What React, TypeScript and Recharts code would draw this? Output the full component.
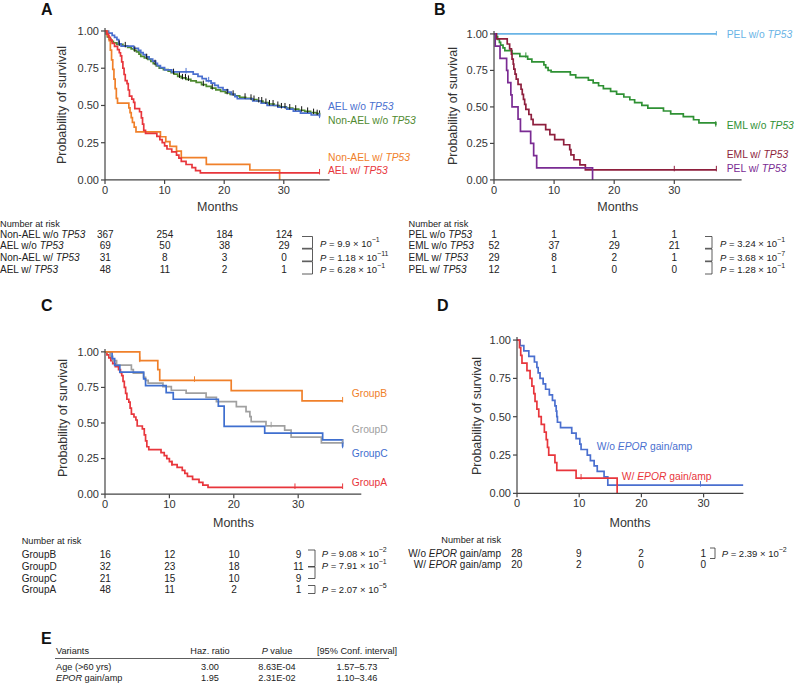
import React from 'react';
import { ComposedChart, Line, XAxis, YAxis } from 'recharts';

const FONT = "'Liberation Sans', Arial, Helvetica, sans-serif";
const monthTicks = [0, 10, 20, 30];
const survTicks = [0, 0.25, 0.5, 0.75, 1];
const Y_MAX = 1.02;

type Pt = [number, number];

// ---------- Panel A ----------
const aAelWo: Pt[] = [[0,1],[0.6,0.986],[1.2,0.971],[1.6,0.957],[2.0,0.942],[2.3,0.913],[2.7,0.899],[4.8,0.884],[5.6,0.87],[6.0,0.855],[6.4,0.841],[6.9,0.826],[7.4,0.812],[8.0,0.797],[8.5,0.783],[8.8,0.768],[9.3,0.754],[10.0,0.739],[11.2,0.725],[14.8,0.71],[15.6,0.695],[16.3,0.68],[17.0,0.665],[17.8,0.65],[18.4,0.635],[19.0,0.62],[19.8,0.605],[20.6,0.59],[21.2,0.575],[21.8,0.56],[22.2,0.545],[24.8,0.53],[26.2,0.515],[27.2,0.5],[29.0,0.488],[30.5,0.475],[31.6,0.462],[32.8,0.448],[34.6,0.436],[36.0,0.425]];
const aNonAelWo: Pt[] = [[0,1],[0.2,0.98],[0.4,0.96],[0.7,0.945],[1.0,0.93],[1.4,0.92],[2.0,0.91],[3.0,0.9],[3.8,0.89],[4.4,0.88],[4.9,0.87],[5.3,0.86],[5.7,0.845],[6.0,0.83],[6.6,0.82],[7.2,0.81],[7.7,0.795],[8.1,0.78],[8.6,0.765],[9.1,0.75],[9.8,0.74],[10.6,0.73],[11.1,0.72],[11.6,0.71],[12.2,0.695],[12.8,0.685],[13.6,0.675],[14.4,0.665],[15.3,0.655],[16.2,0.64],[17.0,0.628],[17.8,0.617],[18.6,0.605],[19.4,0.595],[20.2,0.585],[21.0,0.575],[21.8,0.565],[22.6,0.555],[23.6,0.548],[24.6,0.54],[25.5,0.53],[26.5,0.52],[27.4,0.51],[28.4,0.5],[29.3,0.49],[30.4,0.483],[31.5,0.475],[32.5,0.468],[33.5,0.46],[34.5,0.452],[35.5,0.445],[36.0,0.44]];
const aNonAelW: Pt[] = [[0,1],[0.4,0.968],[0.7,0.935],[0.9,0.871],[1.1,0.806],[1.3,0.742],[1.5,0.677],[1.7,0.613],[1.9,0.548],[2.1,0.516],[4.0,0.484],[4.2,0.452],[4.4,0.419],[4.6,0.387],[4.9,0.355],[5.2,0.323],[9.3,0.29],[10.2,0.258],[10.9,0.226],[12.0,0.194],[12.8,0.15],[17.0,0.105],[24.3,0.067],[29.3,0]];
const aAelW: Pt[] = [[0,1],[0.3,0.979],[0.6,0.958],[0.9,0.938],[1.2,0.917],[1.6,0.896],[2.1,0.875],[2.4,0.854],[2.6,0.833],[2.8,0.792],[3.0,0.75],[3.2,0.708],[3.4,0.667],[3.7,0.646],[3.9,0.604],[4.1,0.563],[4.5,0.542],[4.8,0.521],[5.0,0.479],[5.8,0.458],[6.1,0.417],[6.3,0.375],[6.5,0.333],[6.8,0.313],[8.7,0.292],[9.2,0.271],[9.6,0.25],[10.0,0.229],[10.4,0.208],[11.2,0.188],[12.0,0.167],[12.4,0.146],[12.8,0.125],[13.6,0.104],[14.6,0.083],[15.2,0.063],[16.0,0.047],[36.0,0.047]];
const aCensorNonAelWo = [2.4,3.4,5.0,7.0,8.4,11.5,12.5,13.0,13.5,14.0,16.5,18.0,20.5,21.5,23.5,24.5,25.0,25.8,26.3,27.0,27.6,28.2,29.0,29.6,30.2,31.0,32.0,33.0,34.0,35.0,35.6,36.0];
const aCensorAelWo = [13.6, 17.4, 36.0];
const aCensorAelW = [36.0];
const aLabels = ['AEL w/o TP53', 'Non-AEL w/o TP53', 'Non-AEL w/ TP53', 'AEL w/ TP53'];
const aRiskLabels = ['Non-AEL w/o TP53', 'AEL w/o TP53', 'Non-AEL w/ TP53', 'AEL w/ TP53'];
const aRisk = [[367,254,184,124],[69,50,38,29],[31,8,3,0],[48,11,2,1]];
const aP = [['9.9','−1'],['1.18','−11'],['6.28','−1']];

// ---------- Panel B ----------
const bPelWo: Pt[] = [[0,1],[37,1]];
const bEmlWo: Pt[] = [[0,1],[0.4,0.981],[0.6,0.962],[0.9,0.942],[1.1,0.923],[1.5,0.904],[1.8,0.885],[3.0,0.865],[4.3,0.846],[5.6,0.827],[6.3,0.808],[8.3,0.788],[8.6,0.769],[9.0,0.75],[9.5,0.74],[12.7,0.72],[13.6,0.7],[15.7,0.683],[16.5,0.664],[17.4,0.645],[18.2,0.625],[19.4,0.606],[20.4,0.587],[21.6,0.568],[22.6,0.549],[23.4,0.53],[24.6,0.511],[25.6,0.492],[28.2,0.472],[29.4,0.452],[31.5,0.433],[33.2,0.412],[34.1,0.39],[36.9,0.375]];
const bEmlW: Pt[] = [[0,1],[0.4,0.966],[2.2,0.931],[2.6,0.897],[2.9,0.862],[3.0,0.828],[3.2,0.793],[3.3,0.759],[3.5,0.724],[3.7,0.69],[4.0,0.655],[4.5,0.621],[4.7,0.586],[4.9,0.552],[5.1,0.517],[5.3,0.483],[5.8,0.448],[6.2,0.414],[6.5,0.379],[8.6,0.345],[9.3,0.31],[10.1,0.276],[11.6,0.241],[12.6,0.207],[12.8,0.172],[13.3,0.138],[14.3,0.103],[15.2,0.069],[37,0.069]];
const bPelW: Pt[] = [[0,1],[0.2,0.917],[1.0,0.833],[2.1,0.75],[2.3,0.667],[2.8,0.583],[3.0,0.5],[4.0,0.417],[4.4,0.333],[6.1,0.25],[6.6,0.167],[7.1,0.083],[16.4,0]];
const bCensorPelWo = [37];
const bCensorEmlWo = [5.3, 36.9];
const bCensorEmlW = [30, 37];
const bLabels = ['PEL w/o TP53', 'EML w/o TP53', 'EML w/ TP53', 'PEL w/ TP53'];
const bRiskLabels = ['PEL w/o TP53', 'EML w/o TP53', 'EML w/ TP53', 'PEL w/ TP53'];
const bRisk = [[1,1,1,1],[52,37,29,21],[29,8,2,1],[12,1,0,0]];
const bP = [['3.24','−1'],['3.68','−7'],['1.28','−1']];

// ---------- Panel C ----------
const cGroupB: Pt[] = [[0,1],[5.4,0.938],[8.2,0.875],[8.5,0.8],[19.6,0.727],[30.6,0.655],[36.9,0.655]];
const cGroupD: Pt[] = [[0,1],[0.8,0.969],[1.2,0.938],[1.8,0.906],[4.1,0.875],[4.4,0.85],[6.0,0.82],[6.3,0.8],[6.7,0.78],[9.0,0.755],[10.3,0.73],[12.6,0.71],[15.7,0.68],[17.3,0.65],[20.4,0.615],[21.9,0.58],[22.5,0.545],[22.7,0.51],[25.0,0.48],[27.9,0.45],[28.9,0.4],[33.6,0.36],[36.9,0.355]];
const cGroupC: Pt[] = [[0,1],[1.1,0.952],[1.5,0.905],[2.3,0.857],[6.0,0.81],[6.3,0.762],[9.5,0.714],[10.6,0.667],[17.6,0.619],[18.5,0.476],[24.8,0.429],[33.8,0.381],[36.9,0.333]];
const cGroupA: Pt[] = [[0,1],[0.3,0.979],[0.6,0.958],[0.9,0.938],[1.2,0.917],[1.6,0.896],[2.1,0.875],[2.4,0.854],[2.6,0.833],[2.8,0.792],[3.0,0.75],[3.2,0.708],[3.4,0.667],[3.7,0.646],[3.9,0.604],[4.1,0.563],[4.5,0.542],[4.8,0.521],[5.0,0.479],[5.8,0.458],[6.1,0.417],[6.3,0.375],[6.5,0.333],[6.8,0.313],[8.7,0.292],[9.2,0.271],[9.6,0.25],[10.0,0.229],[10.4,0.208],[11.2,0.188],[12.0,0.167],[12.4,0.146],[12.8,0.125],[13.6,0.104],[14.6,0.083],[15.2,0.063],[16.0,0.047],[36.9,0.047]];
const cCensorB = [5.4, 13.9, 36.9];
const cCensorD = [25.8, 36.9];
const cCensorC = [36.9];
const cCensorA = [10.4, 29.5, 36.9];
const cLabels = ['GroupB', 'GroupD', 'GroupC', 'GroupA'];
const cRiskLabels = ['GroupB', 'GroupD', 'GroupC', 'GroupA'];
const cRisk = [[16,12,10,9],[32,23,18,11],[21,15,10,9],[48,11,2,1]];
const cP = [['9.08','−2'],['7.91','−1'],['2.07','−5']];

// ---------- Panel D ----------
const dWo: Pt[] = [[0,1],[0.5,0.964],[1.1,0.929],[1.9,0.893],[2.8,0.857],[3.2,0.821],[3.4,0.786],[3.7,0.75],[4.2,0.714],[4.6,0.679],[5.2,0.643],[5.7,0.607],[6.1,0.571],[6.3,0.536],[6.4,0.5],[6.5,0.464],[7.0,0.429],[8.8,0.393],[9.5,0.357],[10.1,0.321],[10.3,0.286],[11.3,0.25],[11.8,0.214],[12.4,0.179],[12.9,0.143],[14.0,0.107],[14.6,0.054],[36.4,0.054]];
const dW: Pt[] = [[0,1],[0.4,0.95],[0.6,0.9],[0.8,0.85],[1.6,0.8],[2.1,0.75],[2.4,0.7],[2.7,0.65],[2.9,0.6],[3.2,0.55],[3.5,0.5],[3.9,0.45],[4.4,0.4],[4.7,0.35],[4.9,0.3],[5.1,0.25],[6.1,0.2],[6.4,0.15],[9.5,0.1],[16.1,0]];
const dCensorWo = [29.5];
const dCensorW = [10.3];
const dLabels = ['W/o EPOR gain/amp', 'W/ EPOR gain/amp'];
const dRiskLabels = ['W/o EPOR gain/amp', 'W/ EPOR gain/amp'];
const dRisk = [[28,9,2,1],[20,2,0,0]];
const dP = [['2.39','−2']];

// ---------- Panel E ----------
const eHeader = ['Variants', 'Haz. ratio', 'P value', '[95% Conf. interval]'];
const eRows = [
  ['Age (>60 yrs)', '3.00', '8.63E-04', '1.57–5.73'],
  ['EPOR gain/amp', '1.95', '2.31E-02', '1.10–3.46'],
];

// ---------- colours ----------
const COL = {
  blue: '#4a6fcf', greenA: '#4f8a30', orange: '#f0802a', red: '#e8363c',
  lblue: '#6ab4e6', greenB: '#2f9134', dred: '#8e1f3d', purple: '#7a2b93',
  gray: '#a0a0a0', blueC: '#3f6fcf', axis: '#444', text: '#333',
};

type Series = { data: Pt[]; color: string; censor?: number[]; censorColor?: string };
type Cfg = { x0: number; y0: number; y1: number; kx: number; xMax: number; series: Series[] };

function stepAt(data: Pt[], t: number) {
  let s = data[0][1];
  for (const [x, y] of data) { if (x <= t) s = y; else break; }
  return s;
}

const toObj = (d: Pt[]) => d.map(([t, s]) => ({ t, s }));

const censorDot = (color: string) => (props: any) => {
  const { cx, cy, index } = props;
  if (cx == null || cy == null) return <g key={`n${index}`} />;
  return <line key={`c${index}`} x1={cx} x2={cx} y1={cy - 4} y2={cy + 1.5} stroke={color} strokeWidth={1} />;
};

function KM({ cfg }: { cfg: Cfg }) {
  const ML = 60, MT = 6, MR = 8, MB = 30;
  const plotW = cfg.xMax * cfg.kx;
  const plotH = (cfg.y0 - cfg.y1) * Y_MAX;
  const plotTop = cfg.y0 - plotH;
  const W = plotW + ML + MR;
  const H = plotH + MT + MB;
  const tickStyle = { fontSize: 11, fill: COL.text, fontFamily: FONT };
  return (
    <div style={{ position: 'absolute', left: cfg.x0 - ML, top: plotTop - MT }}>
      <ComposedChart width={W} height={H} margin={{ top: MT, right: MR, left: 0, bottom: 0 }}>
        <XAxis type="number" dataKey="t" domain={[0, cfg.xMax]} ticks={monthTicks} height={MB}
          allowDataOverflow tickSize={4} tick={tickStyle}
          axisLine={{ stroke: COL.axis, strokeWidth: 1.2 }} tickLine={{ stroke: COL.axis, strokeWidth: 1.2 }} />
        <YAxis type="number" dataKey="s" domain={[0, Y_MAX]} ticks={survTicks} width={ML}
          allowDataOverflow tickSize={4} tick={tickStyle} tickFormatter={(v: number) => v.toFixed(2)}
          axisLine={{ stroke: COL.axis, strokeWidth: 1.2 }} tickLine={{ stroke: COL.axis, strokeWidth: 1.2 }} />
        {cfg.series.map((s, i) => (
          <Line key={`l${i}`} data={toObj(s.data)} dataKey="s" type="stepAfter" stroke={s.color}
            strokeWidth={1.7} dot={false} activeDot={false} isAnimationActive={false} />
        ))}
        {cfg.series.filter(s => s.censor && s.censor.length).map((s, i) => (
          <Line key={`c${i}`} data={s.censor!.map(t => ({ t, s: stepAt(s.data, t) }))} dataKey="s"
            stroke="none" strokeWidth={0} dot={censorDot(s.censorColor || s.color)} activeDot={false}
            isAnimationActive={false} />
        ))}
      </ComposedChart>
    </div>
  );
}

const cfgA: Cfg = {
  x0: 105.3, y0: 180, y1: 31, kx: 5.96, xMax: 37.7,
  series: [
    { data: aNonAelWo, color: COL.greenA, censor: aCensorNonAelWo, censorColor: '#111' },
    { data: aAelWo, color: COL.blue, censor: aCensorAelWo },
    { data: aNonAelW, color: COL.orange },
    { data: aAelW, color: COL.red, censor: aCensorAelW },
  ],
};
const cfgB: Cfg = {
  x0: 494, y0: 180, y1: 34, kx: 6.01, xMax: 41.2,
  series: [
    { data: bPelWo, color: COL.lblue, censor: bCensorPelWo },
    { data: bEmlWo, color: COL.greenB, censor: bCensorEmlWo },
    { data: bEmlW, color: COL.dred, censor: bCensorEmlW },
    { data: bPelW, color: COL.purple },
  ],
};
const cfgC: Cfg = {
  x0: 105.3, y0: 494, y1: 351.7, kx: 6.44, xMax: 39.8,
  series: [
    { data: cGroupA, color: COL.red, censor: cCensorA },
    { data: cGroupD, color: COL.gray, censor: cCensorD },
    { data: cGroupC, color: COL.blueC, censor: cCensorC },
    { data: cGroupB, color: COL.orange, censor: cCensorB },
  ],
};
const cfgD: Cfg = {
  x0: 516.7, y0: 493.3, y1: 340, kx: 6.22, xMax: 36.4,
  series: [
    { data: dWo, color: COL.blue, censor: dCensorWo },
    { data: dW, color: COL.red, censor: dCensorW },
  ],
};

function Rich({ text }: { text: string }) {
  const parts = text.split(/(TP53|EPOR)/).filter(p => p.length);
  return <>{parts.map((p, i) => (p === 'TP53' || p === 'EPOR')
    ? <tspan key={i} fontStyle="italic">{p}</tspan>
    : <tspan key={i}>{p}</tspan>)}</>;
}

function T({ x, y, text, size = 10, fill = '#222', anchor = 'start', bold = false }:
  { x: number; y: number; text: string; size?: number; fill?: string; anchor?: string; bold?: boolean }) {
  return (
    <text x={x} y={y} fontSize={size} fill={fill} textAnchor={anchor as any} dominantBaseline="central"
      fontWeight={bold ? 'bold' : 'normal'} style={{ whiteSpace: 'pre' }}>
      <Rich text={text} />
    </text>
  );
}

function PVal({ x, y, m, e }: { x: number; y: number; m: string; e: string }) {
  return (
    <text x={x} y={y} fontSize={9.5} fill="#222" dominantBaseline="central" style={{ whiteSpace: 'pre' }}>
      <tspan fontStyle="italic">P</tspan>
      <tspan>{` = ${m} × 10`}</tspan>
      <tspan dy={-4} fontSize={7}>{e}</tspan>
    </text>
  );
}

function Bracket({ x1, x2, y1, y2 }: { x1: number; x2: number; y1: number; y2: number }) {
  return <path d={`M${x1},${y1} H${x2} V${y2} H${x1}`} fill="none" stroke="#333" strokeWidth={0.8} />;
}

function RiskTable({ cfg, header, headerX, headerAnchor, labels, labelX, labelAnchor, rows, ys, headerY }:
  { cfg: Cfg; header: string; headerX: number; headerAnchor: string; labels: string[]; labelX: number;
    labelAnchor: string; rows: number[][]; ys: number[]; headerY: number }) {
  return (
    <g>
      <T x={headerX} y={headerY} text={header} anchor={headerAnchor} size={9.2} />
      {labels.map((l, i) => <T key={`l${i}`} x={labelX} y={ys[i]} text={l} anchor={labelAnchor} />)}
      {rows.map((r, i) => r.map((v, j) => (
        <T key={`v${i}-${j}`} x={cfg.x0 + monthTicks[j] * cfg.kx} y={ys[i]} text={String(v)} anchor="middle" />
      )))}
    </g>
  );
}

export default function App() {
  const ylab = 'Probability of survival';
  const rowsAB = [233.5, 245.4, 257.3, 269.2];
  const rowsC = [554.3, 565.9, 577.6, 589.3];
  const rowsD = [552.7, 564.3];
  return (
    <div style={{ position: 'absolute', left: 0, top: 0, width: 794, height: 693, background: '#fff', fontFamily: FONT, overflow: 'hidden' }}>
      <KM cfg={cfgA} />
      <KM cfg={cfgB} />
      <KM cfg={cfgC} />
      <KM cfg={cfgD} />
      <svg width={794} height={693} style={{ position: 'absolute', left: 0, top: 0, pointerEvents: 'none' }} fontFamily={FONT}>
        {/* panel letters */}
        <T x={41} y={9} text="A" size={16} bold fill="#111" />
        <T x={434} y={9} text="B" size={16} bold fill="#111" />
        <T x={41} y={305} text="C" size={16} bold fill="#111" />
        <T x={437} y={305} text="D" size={16} bold fill="#111" />
        <T x={41} y={638} text="E" size={16} bold fill="#111" />

        {/* axis titles */}
        <text x={62} y={105} fontSize={12.5} fill={COL.text} textAnchor="middle" dominantBaseline="central" transform="rotate(-90 62 105)">{ylab}</text>
        <text x={453} y={106} fontSize={12.5} fill={COL.text} textAnchor="middle" dominantBaseline="central" transform="rotate(-90 453 106)">{ylab}</text>
        <text x={63} y={418} fontSize={12.5} fill={COL.text} textAnchor="middle" dominantBaseline="central" transform="rotate(-90 63 418)">{ylab}</text>
        <text x={477} y={416} fontSize={12.5} fill={COL.text} textAnchor="middle" dominantBaseline="central" transform="rotate(-90 477 416)">{ylab}</text>
        <T x={217.6} y={206.5} text="Months" size={12.5} fill={COL.text} anchor="middle" />
        <T x={617.8} y={206.5} text="Months" size={12.5} fill={COL.text} anchor="middle" />
        <T x={233.5} y={522.7} text="Months" size={12.5} fill={COL.text} anchor="middle" />
        <T x={630} y={522.7} text="Months" size={12.5} fill={COL.text} anchor="middle" />

        {/* curve labels */}
        {aLabels.map((l, i) => <T key={`al${i}`} x={328} y={[106, 119.5, 156.7, 170][i]} text={l} size={10.3}
          fill={[COL.blue, COL.greenA, COL.orange, COL.red][i]} />)}
        {bLabels.map((l, i) => <T key={`bl${i}`} x={726.7} y={[34.3, 125, 154, 168.3][i]} text={l} size={10.3}
          fill={[COL.lblue, COL.greenB, COL.dred, COL.purple][i]} />)}
        {cLabels.map((l, i) => <T key={`cl${i}`} x={351.7} y={[393.3, 429.3, 452.7, 481.7][i]} text={l} size={10.3}
          fill={[COL.orange, COL.gray, COL.blueC, COL.red][i]} />)}
        {dLabels.map((l, i) => <T key={`dl${i}`} x={[596.7, 621.7][i]} y={[446, 475.7][i]} text={l} size={10.3}
          fill={[COL.blue, COL.red][i]} />)}

        {/* number at risk */}
        <RiskTable cfg={cfgA} header="Number at risk" headerX={0} headerY={224} headerAnchor="start"
          labels={aRiskLabels} labelX={0} labelAnchor="start" rows={aRisk} ys={rowsAB} />
        <RiskTable cfg={cfgB} header="Number at risk" headerX={408.5} headerY={224} headerAnchor="start"
          labels={bRiskLabels} labelX={408.5} labelAnchor="start" rows={bRisk} ys={rowsAB} />
        <RiskTable cfg={cfgC} header="Number at risk" headerX={21.7} headerY={541} headerAnchor="start"
          labels={cRiskLabels} labelX={21.7} labelAnchor="start" rows={cRisk} ys={rowsC} />
        <RiskTable cfg={cfgD} header="Number at risk" headerX={501} headerY={540} headerAnchor="end"
          labels={dRiskLabels} labelX={501} labelAnchor="end" rows={dRisk} ys={rowsD} />

        {/* brackets + P values */}
        {[[236.5, 248.3], [249, 261], [261.7, 274]].map(([y1, y2], i) => (
          <g key={`ap${i}`}>
            <Bracket x1={302} x2={312.5} y1={y1} y2={y2} />
            <PVal x={320} y={[243.3, 256.7, 269.3][i]} m={aP[i][0]} e={aP[i][1]} />
          </g>
        ))}
        {[[236.5, 248.3], [249, 261], [261.7, 274]].map(([y1, y2], i) => (
          <g key={`bp${i}`}>
            <Bracket x1={705} x2={712} y1={y1} y2={y2} />
            <PVal x={720} y={[243.3, 256.7, 269.3][i]} m={bP[i][0]} e={bP[i][1]} />
          </g>
        ))}
        {[[550, 566.5], [567, 578.5], [585.5, 593.5]].map(([y1, y2], i) => (
          <g key={`cp${i}`}>
            <Bracket x1={308} x2={315} y1={y1} y2={y2} />
            <PVal x={321.7} y={[553.3, 565, 589][i]} m={cP[i][0]} e={cP[i][1]} />
          </g>
        ))}
        <Bracket x1={710} x2={715} y1={548} y2={558.5} />
        <PVal x={721.7} y={553.3} m={dP[0][0]} e={dP[0][1]} />

        {/* table E */}
        {eHeader.map((h, i) => (
          <text key={`eh${i}`} x={[56, 210, 277, 357][i]} y={651} fontSize={9.2} fill="#222"
            textAnchor={i === 0 ? 'start' : 'middle'} dominantBaseline="central" style={{ whiteSpace: 'pre' }}>
            {i === 2 ? <><tspan fontStyle="italic">P</tspan><tspan>{h.slice(1)}</tspan></> : h}
          </text>
        ))}
        <line x1={55} x2={389} y1={658.5} y2={658.5} stroke="#333" strokeWidth={0.8} />
        {eRows.map((r, i) => r.map((c, j) => (
          <T key={`er${i}-${j}`} x={[56, 210, 277, 357][j]} y={[667, 678][i]} text={c} size={9.2}
            anchor={j === 0 ? 'start' : 'middle'} />
        )))}
      </svg>
    </div>
  );
}
